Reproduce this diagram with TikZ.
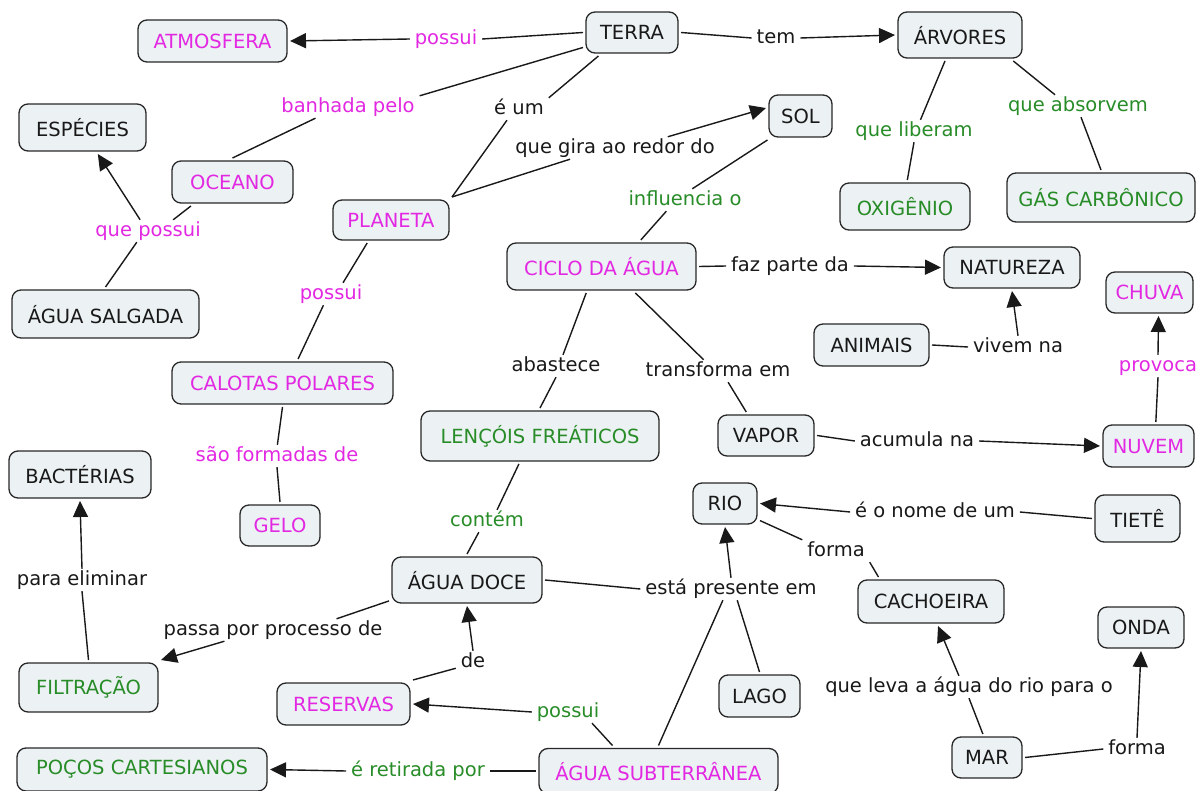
\documentclass[tikz,border=0pt]{standalone}
\usepackage{fontspec}
\setmainfont{DejaVu Sans}
\usetikzlibrary{arrows.meta}
\definecolor{mag}{RGB}{226,40,226}
\definecolor{grn}{RGB}{40,140,40}
\definecolor{boxfill}{RGB}{236,241,243}
\definecolor{edgecol}{RGB}{40,40,40}
\definecolor{linecol}{RGB}{25,25,25}
\definecolor{txt}{RGB}{25,25,25}
\tikzset{
  concept/.style={draw=edgecol, line width=1.3pt, fill=boxfill, rounded corners=9pt,
    font=\fontsize{19.5pt}{23pt}\selectfont, text=txt, text height=14.2pt, text depth=0pt,
    inner xsep=3pt, inner ysep=0pt, outer sep=3pt},
  acc/.style={text height=18.5pt},
  ced/.style={text depth=3.9pt},
  lbl/.style={font=\fontsize{19.5pt}{23pt}\selectfont, text=txt, text height=14.5pt, text depth=3.9pt,
    inner xsep=5pt, inner ysep=2pt, outer sep=0pt},
  link/.style={draw=linecol, line width=1.4pt},
  arr/.style={link, -{Triangle[length=16pt,width=15pt]}}
}
\begin{document}
\begin{tikzpicture}[x=1pt,y=-1pt]
\fill[white] (0,0) rectangle (1197,791);
\useasboundingbox (0,0) rectangle (1197,791);
% concepts
\node[concept,minimum width=149pt,minimum height=42pt,text=mag] (ATMOS) at (212.5,41) {ATMOSFERA};
\node[concept,minimum width=92pt,minimum height=41pt] (TERRA) at (632,32.5) {TERRA};
\node[concept,acc,minimum width=124pt,minimum height=46pt] (ARV) at (960,35) {ÁRVORES};
\node[concept,acc,minimum width=127pt,minimum height=47pt] (ESP) at (82.5,127.5) {ESPÉCIES};
\node[concept,minimum width=121pt,minimum height=42pt,text=mag] (OCEANO) at (232.5,182) {OCEANO};
\node[concept,minimum width=116pt,minimum height=40pt,text=mag] (PLANETA) at (391,220) {PLANETA};
\node[concept,minimum width=63pt,minimum height=42pt] (SOL) at (800.5,116) {SOL};
\node[concept,acc,minimum width=187pt,minimum height=48pt] (AGUASAL) at (105.5,314) {ÁGUA SALGADA};
\node[concept,minimum width=221pt,minimum height=42pt,text=mag] (CALOTAS) at (282.5,383) {CALOTAS POLARES};
\node[concept,acc,minimum width=142pt,minimum height=47pt] (BACT) at (80,474.5) {BACTÉRIAS};
\node[concept,minimum width=80pt,minimum height=41pt,text=mag] (GELO) at (280,525.5) {GELO};
\node[concept,acc,minimum width=189pt,minimum height=47pt,text=mag] (CICLO) at (601.5,266.5) {CICLO DA ÁGUA};
\node[concept,minimum width=136pt,minimum height=41pt] (NATUREZA) at (1012,267.5) {NATUREZA};
\node[concept,minimum width=87pt,minimum height=41pt,text=mag] (CHUVA) at (1149.5,292.5) {CHUVA};
\node[concept,minimum width=115pt,minimum height=42pt] (ANIMAIS) at (871.5,345) {ANIMAIS};
\node[concept,acc,ced,minimum width=238pt,minimum height=50pt,text=grn] (LENCOIS) at (540,436) {LENÇÓIS FREÁTICOS};
\node[concept,minimum width=96pt,minimum height=41pt] (VAPOR) at (766,435.5) {VAPOR};
\node[concept,minimum width=91pt,minimum height=42pt,text=mag] (NUVEM) at (1148.5,446) {NUVEM};
\node[concept,minimum width=64pt,minimum height=41pt] (RIO) at (725,503.5) {RIO};
\node[concept,acc,minimum width=85pt,minimum height=47pt] (TIETE) at (1137.5,518.5) {TIETÊ};
\node[concept,minimum width=146pt,minimum height=43pt] (CACHOEIRA) at (931,601.5) {CACHOEIRA};
\node[concept,minimum width=86pt,minimum height=41pt] (ONDA) at (1141,627.5) {ONDA};
\node[concept,minimum width=70pt,minimum height=41pt] (MAR) at (987,757.5) {MAR};
\node[concept,acc,minimum width=150pt,minimum height=46pt] (AGUADOCE) at (467,580) {ÁGUA DOCE};
\node[concept,acc,ced,minimum width=139pt,minimum height=49pt,text=grn] (FILTRACAO) at (88.5,687.5) {FILTRAÇÃO};
\node[concept,minimum width=133pt,minimum height=42pt,text=mag] (RESERVAS) at (343.5,704) {RESERVAS};
\node[concept,ced,minimum width=250pt,minimum height=43pt,text=grn] (POCOS) at (142,769.5) {POÇOS CARTESIANOS};
\node[concept,minimum width=81pt,minimum height=42pt] (LAGO) at (759.5,696) {LAGO};
\node[concept,acc,minimum width=239pt,minimum height=45pt,text=mag] (SUBT) at (658.5,771) {ÁGUA SUBTERRÂNEA};
\node[concept,acc,minimum width=130pt,minimum height=47pt,text=grn] (OXIG) at (905,206.5) {OXIGÊNIO};
\node[concept,acc,minimum width=188pt,minimum height=49pt,text=grn] (GAS) at (1101,197.5) {GÁS CARBÔNICO};
% labels
\node[lbl,text=mag] (lPossuiA) at (446,39) {possui};
\node[lbl] (lTem) at (776,38) {tem};
\node[lbl,text=mag] (lBanhada) at (348,107) {banhada pelo};
\node[lbl] (lEum) at (519,109) {é um};
\node[lbl] (lGira) at (615,148) {que gira ao redor do};
\node[lbl,text=mag] (lQuePossui) at (148,231) {que possui};
\node[lbl,text=grn] (lInfl) at (685,200) {influencia o};
\node[lbl,text=grn] (lLiberam) at (914,131) {que liberam};
\node[lbl,text=grn] (lAbsorvem) at (1078,106) {que absorvem};
\node[lbl,text=mag] (lPossuiB) at (331,294) {possui};
\node[lbl] (lFaz) at (790,266) {faz parte da};
\node[lbl] (lVivem) at (1018,347) {vivem na};
\node[lbl,text=mag] (lProvoca) at (1158,366) {provoca};
\node[lbl] (lAbastece) at (556,366) {abastece};
\node[lbl] (lTransf) at (718,371) {transforma em};
\node[lbl,text=mag] (lSao) at (277,456) {são formadas de};
\node[lbl] (lAcumula) at (917,441) {acumula na};
\node[lbl] (lNome) at (935,512) {é o nome de um};
\node[lbl,text=grn] (lContem) at (487,521) {contém};
\node[lbl] (lFormaA) at (836,551) {forma};
\node[lbl] (lPara) at (82,580) {para eliminar};
\node[lbl] (lEsta) at (731,589) {está presente em};
\node[lbl] (lPassa) at (273,630) {passa por processo de};
\node[lbl] (lLeva) at (969,687) {que leva a água do rio para o};
\node[lbl] (lDe) at (473,662) {de};
\node[lbl,text=grn] (lPossuiC) at (568,712) {possui};
\node[lbl] (lFormaB) at (1137,749) {forma};
\node[lbl,text=grn] (lRetirada) at (418,771) {é retirada por};
% connectors
\draw[link] (TERRA.west) -- (lPossuiA.east);
\draw[arr] (lPossuiA.west) -- (ATMOS.east);
\draw[link] (TERRA.east) -- (lTem.west);
\draw[arr] (lTem.east) -- (ARV.west);
\draw[link] (TERRA.197) -- (lBanhada.north east);
\draw[link] (lBanhada.199) -- (OCEANO.north);
\draw[link] (OCEANO.210) -- (lQuePossui.24);
\draw[link] (AGUASAL.north) -- (lQuePossui.225);
\draw[arr] (lQuePossui.125) -- (ESP.300);
\draw[link] (TERRA.215) -- (lEum.north east);
\draw[link] (lEum.223) -- (PLANETA.north east);
\draw[link] (PLANETA.north east) -- (lGira.194);
\draw[arr] (lGira.12) -- (SOL.167);
\draw[link] (SOL.216) -- (lInfl.57);
\draw[link] (lInfl.211) -- (CICLO.34);
\draw[link] (ARV.240) -- (lLiberam.60);
\draw[link] (lLiberam.south) -- (OXIG.85);
\draw[link] (ARV.334) -- (lAbsorvem.154);
\draw[link] (lAbsorvem.285) -- (GAS.north);
\draw[link] (PLANETA.224) -- (lPossuiB.43);
\draw[link] (lPossuiB.236) -- (CALOTAS.57);
\draw[link] (CALOTAS.south) -- (lSao.88);
\draw[link] (lSao.south) -- (GELO.north);
\draw[link] (CICLO.east) -- (lFaz.west);
\draw[arr] (lFaz.east) -- (NATUREZA.west);
\draw[link] (ANIMAIS.east) -- (lVivem.west);
\draw[arr] (lVivem.north) -- (NATUREZA.south);
\draw[link] (NUVEM.73) -- (lProvoca.south);
\draw[arr] (lProvoca.north) -- (CHUVA.291);
\draw[link] (CICLO.240) -- (lAbastece.58);
\draw[link] (lAbastece.south) -- (LENCOIS.north);
\draw[link] (CICLO.322) -- (lTransf.142);
\draw[link] (lTransf.312) -- (VAPOR.130);
\draw[link] (VAPOR.east) -- (lAcumula.west);
\draw[arr] (lAcumula.east) -- (NUVEM.west);
\draw[link] (TIETE.west) -- (lNome.east);
\draw[arr] (lNome.west) -- (RIO.east);
\draw[link] (RIO.334) -- (lFormaA.north west);
\draw[link] (lFormaA.south east) -- (CACHOEIRA.155);
\draw[link] (MAR.100) -- (lLeva.south);
\draw[arr] (lLeva.132) -- (CACHOEIRA.286);
\draw[link] (MAR.east) -- (lFormaB.west);
\draw[arr] (lFormaB.north) -- (ONDA.south);
\draw[link] (LENCOIS.233) -- (lContem.48);
\draw[link] (lContem.234) -- (AGUADOCE.north);
\draw[link] (AGUADOCE.east) -- (lEsta.west);
\draw[arr] (lEsta.north) -- (RIO.south);
\draw[link] (lEsta.299) -- (LAGO.north);
\draw[link] (lEsta.234) -- (SUBT.north);
\draw[link] (AGUADOCE.195) -- (lPassa.10);
\draw[arr] (lPassa.193) -- (FILTRACAO.north east);
\draw[link] (FILTRACAO.north) -- (lPara.south);
\draw[arr] (lPara.north) -- (BACT.south);
\draw[link] (RESERVAS.north east) -- (lDe.200);
\draw[arr] (lDe.north) -- (AGUADOCE.south);
\draw[link] (SUBT.151) -- (lPossuiC.335);
\draw[arr] (lPossuiC.west) -- (RESERVAS.east);
\draw[link] (SUBT.west) -- (lRetirada.east);
\draw[arr] (lRetirada.west) -- (POCOS.east);
\end{tikzpicture}
\end{document}
